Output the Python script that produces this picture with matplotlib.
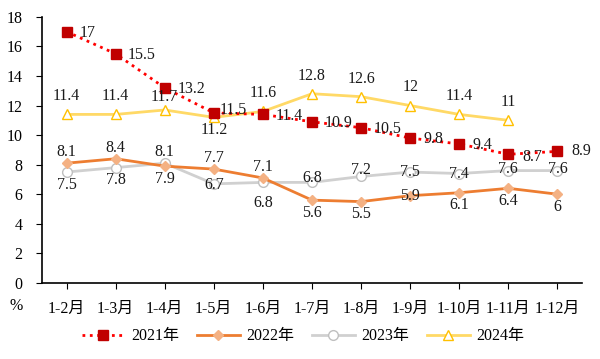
import numpy as np
import matplotlib
matplotlib.use("Agg")
import matplotlib.pyplot as plt

plt.rcParams['font.family'] = ['Liberation Serif', 'Noto Sans CJK SC']
plt.rcParams['font.size'] = 11.5

months = ['1-2月', '1-3月', '1-4月', '1-5月', '1-6月', '1-7月', '1-8月',
          '1-9月', '1-10月', '1-11月', '1-12月']
y2021 = [17, 15.5, 13.2, 11.5, 11.4, 10.9, 10.5, 9.8, 9.4, 8.7, 8.9]
y2022 = [8.1, 8.4, 7.9, 7.7, 7.1, 5.6, 5.5, 5.9, 6.1, 6.4, 6]
y2023 = [7.5, 7.8, 8.1, 6.7, 6.8, 6.8, 7.2, 7.5, 7.4, 7.6, 7.6]
y2024 = [11.4, 11.4, 11.7, 11.2, 11.6, 12.8, 12.6, 12, 11.4, 11]

# label offsets in points (dx, dy)
off2021 = [(15, -1), (19, -1), (19, -1), (14, 2), (19, -1), (19, -1), (19, -1),
           (17, -1), (17, -1), (17, -2), (17, 0)]
off2022 = [(0, 8), (0, 8), (0, -9), (0, 8), (0, 8), (0, -9), (0, -9),
           (0, 0), (0, -9), (0, -9), (0, -9)]
off2023 = [(0, -9), (0, -9), (0, 8), (0, -1), (0, -15), (0, 3), (0, 5),
           (0, 0), (0, 0), (0, 1), (0, 1)]
off2024 = [(0, 13), (0, 13), (0, 9), (0, -9), (0, 13), (0, 13), (0, 13),
           (0, 13), (0, 13), (0, 13)]

x = np.arange(len(months))

fig = plt.figure(figsize=(6, 3.59), dpi=100)
ax = fig.add_axes([0.07, 0.212, 0.9, 0.741])

ax.plot(x, y2021, color='#FF0000', linestyle=':', linewidth=2, marker='s',
        markersize=7.5, markerfacecolor='#C00000', markeredgecolor='#C00000',
        label='2021年', zorder=4)
ax.plot(x, y2022, color='#ED7D31', linewidth=2, marker='D', markersize=5.5,
        markerfacecolor='#F4B183', markeredgecolor='#F4B183', label='2022年', zorder=3)
ax.plot(x, y2023, color='#D0D0D0', linewidth=2, marker='o', markersize=7,
        markerfacecolor='white', markeredgecolor='#BFBFBF', label='2023年', zorder=2)
ax.plot(x[:len(y2024)], y2024, color='#FFD966', linewidth=2, marker='^',
        markersize=7.5, markerfacecolor='white', markeredgecolor='#FFC000',
        label='2024年', zorder=3)

for ys, offs in [(y2021, off2021), (y2022, off2022), (y2023, off2023), (y2024, off2024)]:
    for i, v in enumerate(ys):
        ax.annotate(f'{v:g}', (x[i], v), xytext=offs[i], textcoords='offset points',
                    ha='center', va='center', color='#1a1a1a', zorder=6)

ax.set_xlim(-0.5, 10.5)
ax.set_ylim(0, 18)
ax.set_yticks(np.arange(0, 19, 2))
ax.set_xticks(x)
ax.set_xticklabels(months)
ax.tick_params(axis='x', length=4, pad=9)
ax.tick_params(axis='y', length=4, pad=10)
for s in ['top', 'right']:
    ax.spines[s].set_visible(False)
ax.spines['left'].set_linewidth(1.2)
ax.spines['bottom'].set_linewidth(1.2)
ax.text(-0.035, -0.085, '%', transform=ax.transAxes, ha='right', va='center')

fig.legend(loc='center', bbox_to_anchor=(0.505, 0.063), ncol=4, frameon=False,
           handlelength=2.7, handletextpad=0.4, columnspacing=1.1)

fig.savefig('out.png', dpi=100)
